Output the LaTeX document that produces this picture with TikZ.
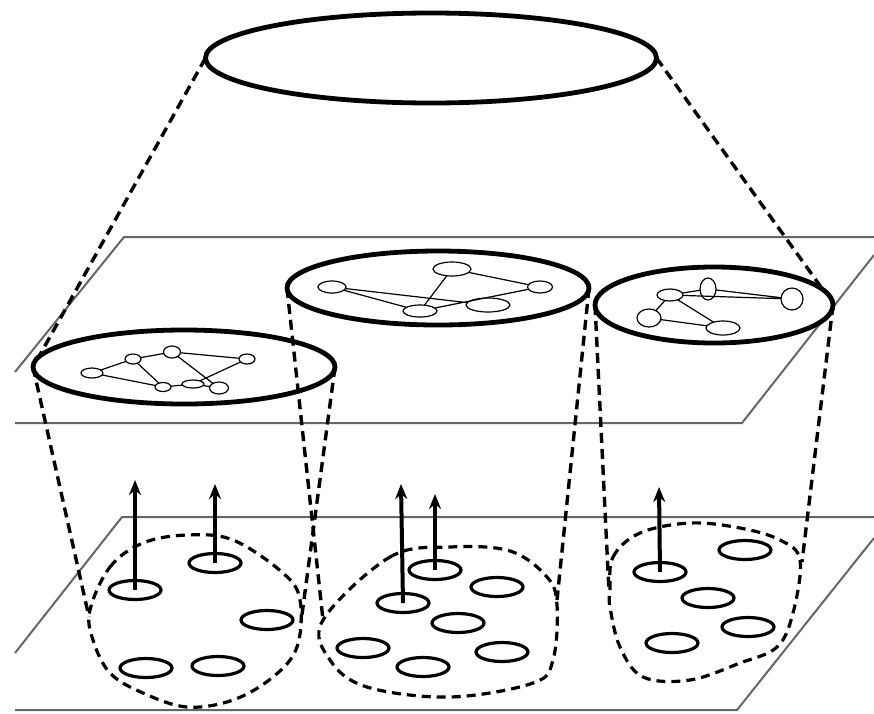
\documentclass[tikz,border=0pt]{standalone}
\usetikzlibrary{shapes.geometric,arrows.meta}
\begin{document}
\begin{tikzpicture}[x=1pt,y=-1pt,
  bigell/.style={ellipse,draw,line width=4.8pt,inner sep=0pt,outer sep=0pt,fill=white},
  gn/.style={ellipse,draw,line width=1.2pt,inner sep=0pt,outer sep=0pt,fill=white},
  gedge/.style={line width=1.2pt},
  dot/.style={ellipse,draw,line width=3.2pt,inner sep=0pt,outer sep=0pt,minimum width=52pt,minimum height=19pt},
  cyl/.style={line width=3.4pt,dash pattern=on 10pt off 6pt},
  blob/.style={line width=3.2pt,dash pattern=on 9pt off 6pt},
  plane/.style={line width=2pt,draw=black!60},
  arrowup/.style={line width=4pt,-{Stealth[length=15pt,width=12pt]}}]
\useasboundingbox (0,0) rectangle (874,713);
% planes
\draw[plane] (874,237) -- (124,237) -- (15,372);
\draw[plane] (874,255) -- (742,423) -- (15,423);
\draw[plane] (874,517) -- (122,517) -- (15,653);
\draw[plane] (874,538) -- (737,710) -- (15,710);
% blobs
\draw[blob] plot[smooth cycle,tension=0.6] coordinates {(90,610) (110,567) (143,543) (187,535) (233,540) (283,573) (300,600) (297,647) (273,677) (233,700) (187,707) (143,693) (110,673) (93,640)};
\draw[blob] plot[smooth cycle,tension=0.6] coordinates {(323,620) (390,557) (450,547) (510,551) (547,577) (557,605) (553,660) (533,683) (450,697) (367,687) (330,660)};
\draw[blob] plot[smooth cycle,tension=0.6] coordinates {(610,590) (613,557) (640,533) (690,523) (740,528) (780,540) (800,560) (793,613) (777,647) (740,663) (690,680) (643,677) (620,647) (610,607)};
% top ellipses
\node[bigell,minimum width=451pt,minimum height=90pt] (top) at (431,58) {};
\node[bigell,minimum width=302pt,minimum height=74pt] (ellL) at (184,367) {};
\node[bigell,minimum width=302pt,minimum height=74pt] (ellM) at (438,288) {};
\node[bigell,minimum width=238pt,minimum height=76pt] (ellR) at (714,305) {};
% cone lines
\draw[cyl] (top.west) -- (ellL.176);
\draw[cyl] (top.east) -- (ellR.8);
% cylinder lines
\coordinate (lL) at (89,617);
\coordinate (lR) at (301,622);
\coordinate (mL) at (323,620);
\coordinate (mR) at (557,600);
\coordinate (rL) at (609,592);
\coordinate (rR) at (802,562);
\draw[cyl] (ellL.west) -- (lL);
\draw[cyl] (ellL.east) -- (lR);
\draw[cyl] (ellM.west) -- (mL);
\draw[cyl] (ellM.east) -- (mR);
\draw[cyl] (ellR.west) -- (rL);
\draw[cyl] (ellR.east) -- (rR);
% graph in left ellipse
\node[gn,minimum width=22pt,minimum height=10pt] (a1) at (92,373) {};
\node[gn,minimum width=16pt,minimum height=10pt] (a2) at (133,359) {};
\node[gn,minimum width=17pt,minimum height=12pt] (a3) at (172,352) {};
\node[gn,minimum width=16pt,minimum height=10pt] (a4) at (247,359) {};
\node[gn,minimum width=16pt,minimum height=9pt] (a5) at (163,387) {};
\node[gn,minimum width=22pt,minimum height=8pt] (a6) at (193,384) {};
\node[gn,minimum width=19pt,minimum height=12pt] (a7) at (219,388) {};
\draw[gedge] (a1) -- (a2) (a2) -- (a3) (a3) -- (a4) (a1) -- (a5) (a2) -- (a5)
  (a3) -- (a7) (a4) -- (a6) (a5) -- (a6) (a6) -- (a7);
% graph in middle ellipse
\node[gn,minimum width=28pt,minimum height=12pt] (m1) at (332,287) {};
\node[gn,minimum width=38pt,minimum height=14pt] (m2) at (452,269) {};
\node[gn,minimum width=25pt,minimum height=12pt] (m3) at (540,287) {};
\node[gn,minimum width=34pt,minimum height=12pt] (m4) at (420,311) {};
\node[gn,minimum width=44pt,minimum height=14pt] (m5) at (488,305) {};
\draw[gedge] (m1) -- (m4) (m1) -- (m5) (m2) -- (m4) (m2) -- (m3) (m3) -- (m4);
% graph in right ellipse
\node[gn,minimum width=26pt,minimum height=12pt] (r1) at (670,295) {};
\node[gn,minimum width=16pt,minimum height=22pt] (r2) at (708,289) {};
\node[gn,minimum width=22pt,minimum height=22pt] (r3) at (792,299) {};
\node[gn,minimum width=24pt,minimum height=18pt] (r4) at (649,318) {};
\node[gn,minimum width=34pt,minimum height=14pt] (r5) at (723,328) {};
\draw[gedge] (r1) -- (r2) (r2) -- (r3) (r1) -- (r3) (r1) -- (r4) (r1) -- (r5) (r4) -- (r5);
% small ellipses, left
\node[dot] (p1) at (135,590) {};
\node[dot] (p2) at (215,563) {};
\node[dot] (p3) at (267,620) {};
\node[dot] (p4) at (146,668) {};
\node[dot] (p5) at (218,666) {};
% middle
\node[dot] (q1) at (435,570) {};
\node[dot] (q2) at (497,587) {};
\node[dot] (q3) at (403,603) {};
\node[dot] (q4) at (458,623) {};
\node[dot] (q5) at (363,648) {};
\node[dot] (q6) at (423,667) {};
\node[dot] (q7) at (502,652) {};
% right
\node[dot] (s1) at (660,572) {};
\node[dot] (s2) at (745,550) {};
\node[dot] (s3) at (708,598) {};
\node[dot] (s4) at (748,627) {};
\node[dot] (s5) at (672,643) {};
% arrows
\coordinate (t1) at (135,480);
\coordinate (t2) at (215,484);
\coordinate (t3) at (401,484);
\coordinate (t4) at (435,494);
\coordinate (t5) at (659,487);
\draw[arrowup] (p1.center) -- (t1);
\draw[arrowup] (p2.center) -- (t2);
\draw[arrowup] (q3.center) -- (t3);
\draw[arrowup] (q1.center) -- (t4);
\draw[arrowup] (s1.center) -- (t5);
\end{tikzpicture}
\end{document}
